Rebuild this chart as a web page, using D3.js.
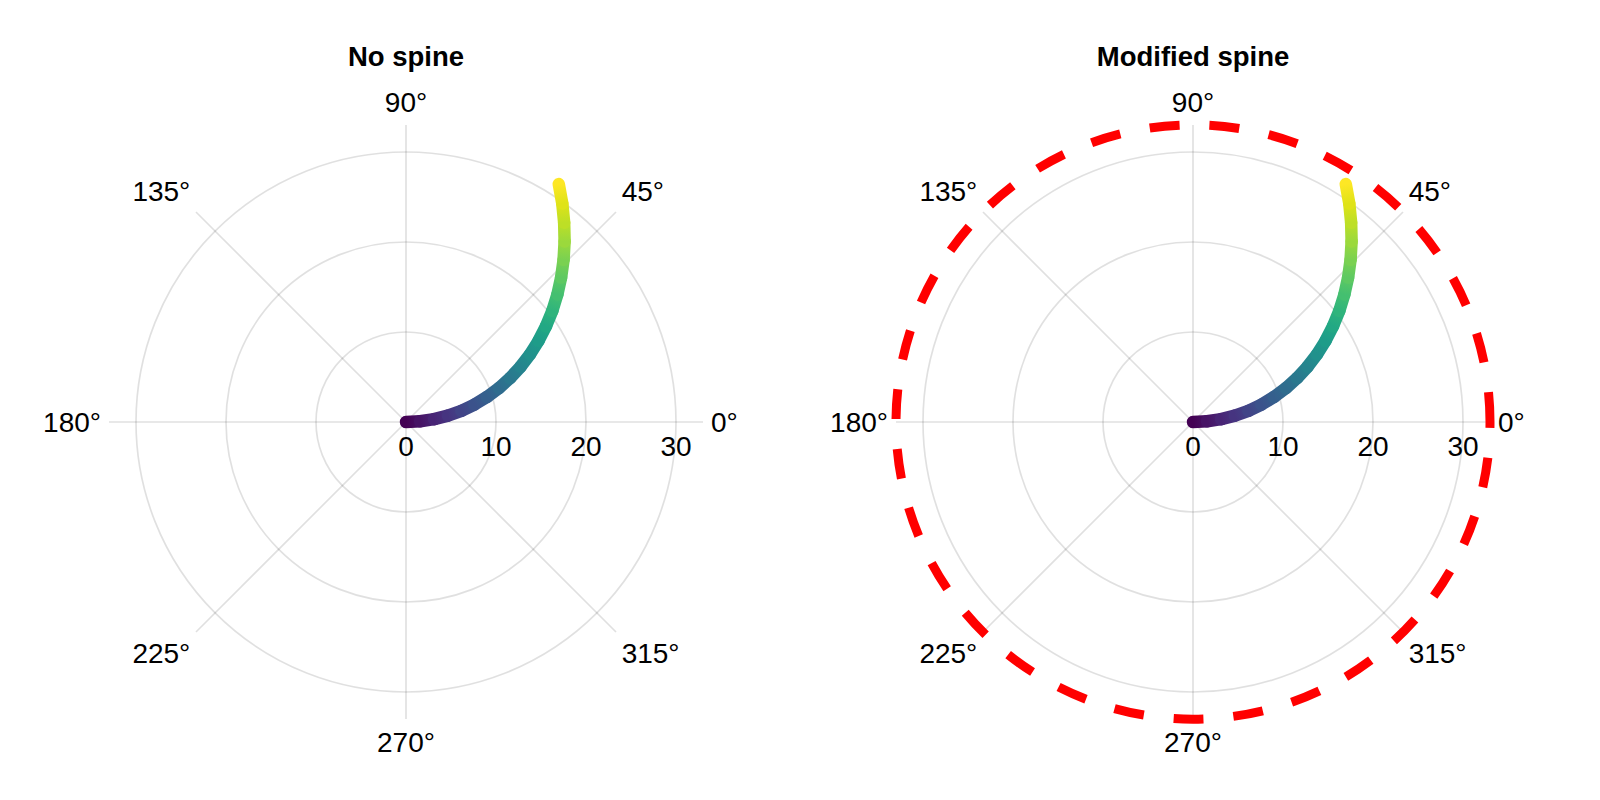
<!DOCTYPE html>
<html lang="en">
<head>
<meta charset="UTF-8">
<title>Polar axis spine</title>
<script src="https://d3js.org/d3.v7.min.js"></script>
<style>
  body { margin: 0; background: #fff; }
  text { font-family: "Liberation Sans", Arial, sans-serif; fill: #000; }
  .title { font-size: 27.5px; font-weight: bold; text-anchor: middle; }
  .tick { font-size: 28px; text-anchor: middle; }
  .grid { fill: none; stroke: #000; stroke-opacity: 0.12; stroke-width: 1.7px; }
</style>
</head>
<body>
<svg width="1600" height="800"></svg>
<script>
// data: angle in radians, radius in data units
const titles = ["No spine", "Modified spine"];
const thetaValues = [0, 0.05, 0.10, 0.15, 0.20, 0.25, 0.30, 0.35, 0.40, 0.45, 0.50,
                     0.55, 0.60, 0.65, 0.70, 0.75, 0.80, 0.85, 0.90, 0.95, 1.00];
const rValues = [0, 1.57, 3.14, 4.71, 6.28, 7.85, 9.42, 11.00, 12.57, 14.14, 15.71,
                 17.28, 18.85, 20.42, 21.99, 23.56, 25.13, 26.70, 28.27, 29.85, 31.42];
const rTicks = [0, 10, 20, 30];
const thetaTicks = [0, 45, 90, 135, 180, 225, 270, 315];
const rLimit = 33;

const svg = d3.select("svg");
const defs = svg.append("defs");

const panels = [
    { title: titles[0], cx: 406, spine: false },
    { title: titles[1], cx: 1193, spine: true }
];
const cy = 422;
const R = 297;

const r = d3.scaleLinear().domain([0, rLimit]).range([0, R]);
const color = d3.scaleSequential(d3.interpolateViridis).domain([0, thetaValues.length - 1]);

panels.forEach((p, pi) => {
    const g = svg.append("g");
    const px = (t, v) => p.cx + r(v) * Math.cos(t);
    const py = (t, v) => cy - r(v) * Math.sin(t);

    // grid circles
    g.selectAll("circle.grid")
        .data(rTicks.filter(d => d > 0))
        .enter().append("circle")
        .attr("class", "grid")
        .attr("cx", p.cx).attr("cy", cy)
        .attr("r", d => r(d));

    // radial grid lines
    g.selectAll("line.grid")
        .data(thetaTicks)
        .enter().append("line")
        .attr("class", "grid")
        .attr("x1", p.cx).attr("y1", cy)
        .attr("x2", d => px(d * Math.PI / 180, rLimit))
        .attr("y2", d => py(d * Math.PI / 180, rLimit));

    // spine, drawn counterclockwise from 0° like the original
    if (p.spine) {
        g.append("path")
            .attr("d", `M${p.cx + R},${cy} A${R},${R} 0 1 0 ${p.cx - R},${cy} A${R},${R} 0 1 0 ${p.cx + R},${cy}`)
            .attr("fill", "none")
            .attr("stroke", "#ff0000")
            .attr("stroke-width", 9)
            .attr("stroke-dasharray", "30,30");
    }

    // colored line, one segment per pair of points with its own gradient
    const pts = thetaValues.map((t, i) => ({ x: px(t, rValues[i]), y: py(t, rValues[i]), i }));
    const segs = d3.pairs(pts);
    segs.forEach(([a, b], si) => {
        const id = `grad${pi}_${si}`;
        const lg = defs.append("linearGradient")
            .attr("id", id)
            .attr("gradientUnits", "userSpaceOnUse")
            .attr("x1", a.x).attr("y1", a.y)
            .attr("x2", b.x).attr("y2", b.y);
        lg.append("stop").attr("offset", 0).attr("stop-color", color(a.i));
        lg.append("stop").attr("offset", 1).attr("stop-color", color(b.i));
    });
    g.selectAll("line.seg")
        .data(segs)
        .enter().append("line")
        .attr("class", "seg")
        .attr("x1", d => d[0].x).attr("y1", d => d[0].y)
        .attr("x2", d => d[1].x).attr("y2", d => d[1].y)
        .attr("stroke", (d, si) => `url(#grad${pi}_${si})`)
        .attr("stroke-width", 12.5)
        .attr("stroke-linecap", "round");

    // radial tick labels along 0°
    g.selectAll("text.rtick")
        .data(rTicks)
        .enter().append("text")
        .attr("class", "tick")
        .attr("x", d => p.cx + r(d))
        .attr("y", cy + 34)
        .text(d => d);

    // angle tick labels outside the circle
    const gap = 8, h = 30;
    thetaTicks.forEach(d => {
        const t = d * Math.PI / 180;
        const c = Math.cos(t), s = Math.sin(t);
        const m = Math.max(Math.abs(c), Math.abs(s));
        const txt = g.append("text").attr("class", "tick").text(d + "°");
        const w = txt.node().getBBox().width;
        const x = p.cx + (R + gap) * c + (w / 2) * (c / m);
        const y = cy - (R + gap) * s - (h / 2) * (s / m);
        txt.attr("x", x).attr("y", y + 0.36 * 28);
    });

    // title
    g.append("text")
        .attr("class", "title")
        .attr("x", p.cx)
        .attr("y", 66)
        .text(p.title);
});
</script>
</body>
</html>
